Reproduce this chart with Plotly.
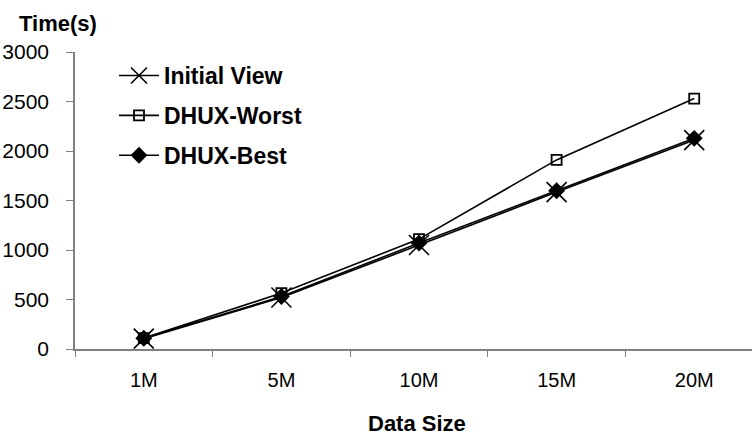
import plotly.graph_objects as go

# Data
categories = ["1M", "5M", "10M", "15M", "20M"]
initial_view = [105, 520, 1050, 1585, 2110]
dhux_worst = [110, 565, 1110, 1910, 2530]
dhux_best = [108, 530, 1070, 1598, 2128]
y_ticks = [0, 500, 1000, 1500, 2000, 2500, 3000]

FONT = "Liberation Sans, Arial, sans-serif"
L, T, B, W, H = 75, 52, 88, 752, 437

fig = go.Figure()

fig.add_trace(go.Scatter(
    x=categories, y=initial_view, name="Initial View", mode="lines+markers",
    line=dict(color="black", width=1.6),
    marker=dict(symbol="x-thin-open", size=20, line=dict(color="black", width=1.6)),
    legendgroup="a",
))
fig.add_trace(go.Scatter(
    x=categories, y=dhux_worst, name="DHUX-Worst", mode="lines+markers",
    line=dict(color="black", width=1.6),
    marker=dict(symbol="square-open", size=10, color="black", line=dict(color="black", width=1.8)),
    legendgroup="b",
))
fig.add_trace(go.Scatter(
    x=categories, y=dhux_best, name="DHUX-Best", mode="lines+markers",
    line=dict(color="black", width=1.6),
    marker=dict(symbol="diamond", size=13, color="black"),
    legendgroup="c",
))

fig.update_layout(
    width=W, height=H,
    margin=dict(l=L, r=0, t=T, b=B, pad=0),
    paper_bgcolor="white", plot_bgcolor="white",
    font=dict(family=FONT, size=20, color="black"),
    showlegend=True,
    legend=dict(
        x=(114 - L) / (W - L), y=1 - (54 - T) / (H - T - B),
        xanchor="left", yanchor="top",
        bgcolor="rgba(0,0,0,0)", borderwidth=0,
        font=dict(family=FONT, size=23, color="black", weight="bold"),
        traceorder="grouped", tracegroupgap=7,
        itemwidth=40,
    ),
    xaxis=dict(
        type="category", range=[-0.5, 4.42],
        showgrid=False, zeroline=False,
        showline=True, linecolor="#808080", linewidth=2,
        ticks="outside", tickson="boundaries", ticklen=6, tickwidth=1.3, tickcolor="#808080",
        tickfont=dict(family=FONT, size=20, color="black"),
        ticklabelstandoff=12,
    ),
    yaxis=dict(
        range=[0, 3000], tickvals=y_ticks,
        showgrid=False, zeroline=False,
        showline=True, linecolor="#808080", linewidth=1.5,
        ticks="outside", ticklen=7, tickwidth=1.3, tickcolor="#808080",
        tickfont=dict(family=FONT, size=21, color="black"),
        ticklabelstandoff=13,
    ),
    annotations=[
        dict(text="<b>Time(s)</b>", xref="paper", yref="paper",
             x=-(L - 17) / (W - L), y=1 + (T - 24) / (H - T - B),
             xanchor="left", yanchor="middle", showarrow=False,
             font=dict(family=FONT, size=22, color="black")),
        dict(text="<b>Data Size</b>", xref="paper", yref="paper",
             x=(417 - L) / (W - L), y=-(423 - (H - B)) / (H - T - B),
             xanchor="center", yanchor="middle", showarrow=False,
             font=dict(family=FONT, size=22, color="black")),
    ],
)

fig.write_html("out.html")
